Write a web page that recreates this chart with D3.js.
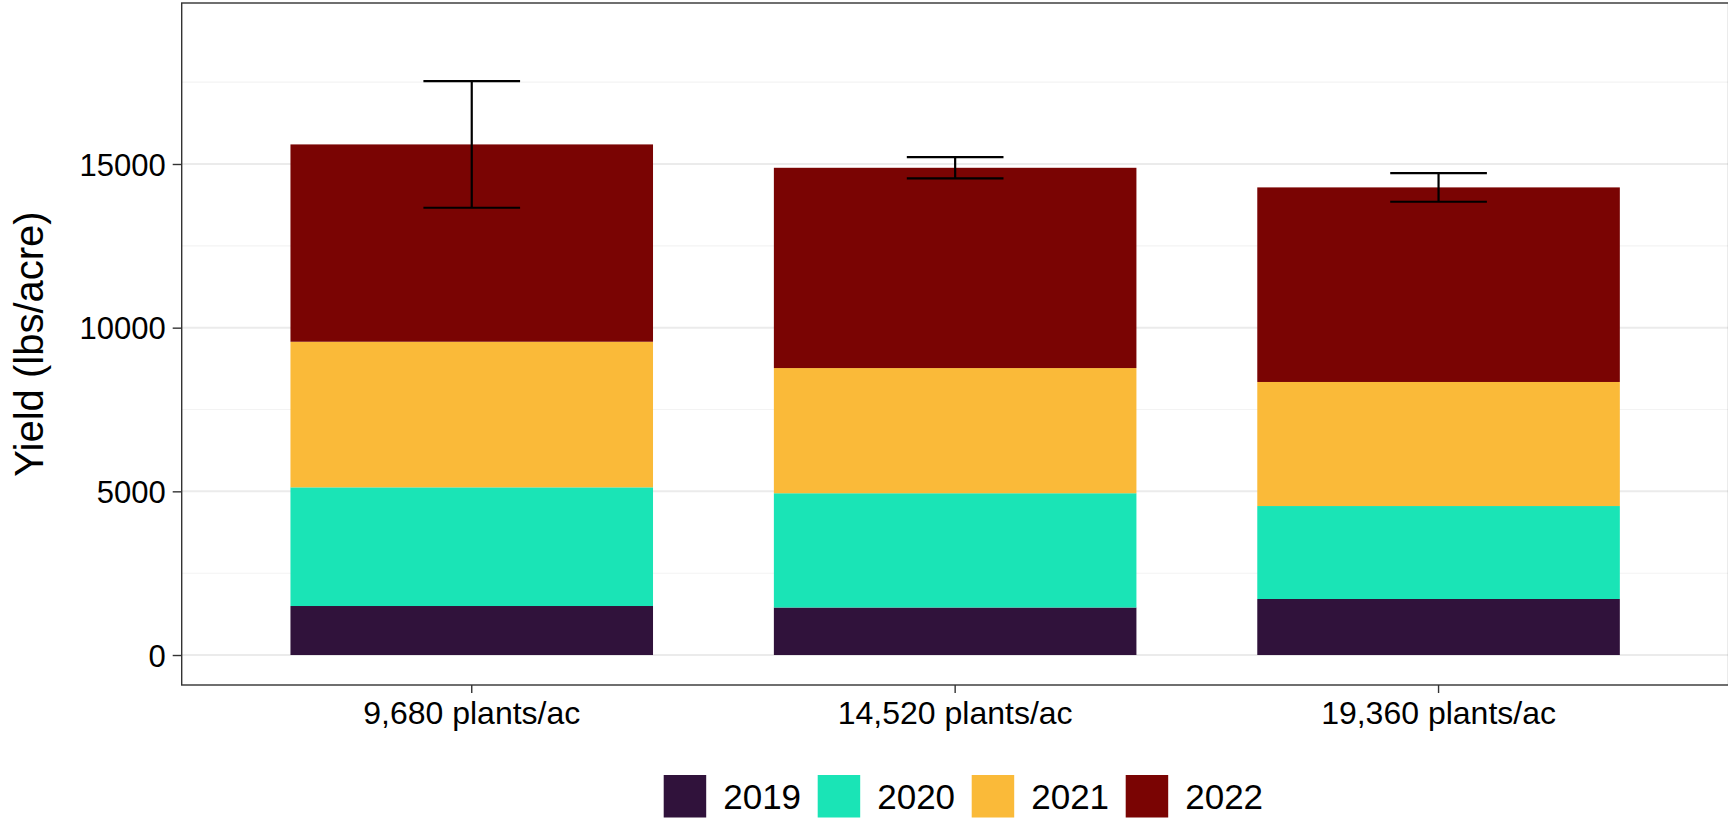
<!DOCTYPE html>
<html>
<head>
<meta charset="utf-8">
<script src="https://cdn.jsdelivr.net/npm/d3@7"></script>
<style>
  html, body { margin: 0; padding: 0; background: #ffffff; }
  svg { display: block; }
  text { font-family: "Liberation Sans", Arial, sans-serif; }
</style>
</head>
<body>
<svg id="chart" width="1728" height="822"></svg>
<script>
// Plant densities on the x axis
const densities = ["9,680 plants/ac", "14,520 plants/ac", "19,360 plants/ac"];

// Growing seasons stacked in each bar
const years = ["2019", "2020", "2021", "2022"];

// Yield contribution (lbs/acre) of each season, per density
const yield2019 = [1497, 1451, 1711];
const yield2020 = [3625, 3491, 2840];
const yield2021 = [4448, 3824, 3790];
const yield2022 = [6028, 6118, 5944];

// Standard error of the total yield, per density
const totalSE = [1935, 325, 438];

// Y axis breaks
const majorTicks = [0, 5000, 10000, 15000];
const minorTicks = [2500, 7500, 12500, 17500];

const seasonColours = ["#30123B", "#1AE4B6", "#FABA39", "#7A0403"];

const svg = d3.select("#chart");

const panel = { left: 181.7, right: 1728.6, top: 3, bottom: 685 };

const x = d3.scaleBand()
  .domain(densities)
  .range([panel.left, panel.right])
  .paddingInner(0.25)
  .paddingOuter(0.225);

const y = d3.scaleLinear()
  .domain([-916, 19918])
  .range([panel.bottom, panel.top]);

const colour = d3.scaleOrdinal().domain(years).range(seasonColours);

// Build stacking table
const bySeason = [yield2019, yield2020, yield2021, yield2022];
const rows = densities.map((d, i) => {
  const r = { density: d };
  years.forEach((yr, j) => { r[yr] = bySeason[j][i]; });
  return r;
});
const stacked = d3.stack().keys(years)(rows);

// Grid lines
const grid = svg.append("g");
grid.selectAll("line.minor").data(minorTicks).join("line")
  .attr("class", "minor")
  .attr("x1", panel.left).attr("x2", panel.right)
  .attr("y1", d => y(d)).attr("y2", d => y(d))
  .attr("stroke", "#f3f3f3").attr("stroke-width", 1.1);
grid.selectAll("line.major").data(majorTicks).join("line")
  .attr("class", "major")
  .attr("x1", panel.left).attr("x2", panel.right)
  .attr("y1", d => y(d)).attr("y2", d => y(d))
  .attr("stroke", "#ebebeb").attr("stroke-width", 2);

// Stacked bars
svg.append("g")
  .selectAll("g")
  .data(stacked)
  .join("g")
  .attr("fill", d => colour(d.key))
  .selectAll("rect")
  .data(d => d)
  .join("rect")
  .attr("x", d => x(d.data.density))
  .attr("width", x.bandwidth())
  .attr("y", d => y(d[1]))
  .attr("height", d => y(d[0]) - y(d[1]));

// Error bars around the total yield
const totals = rows.map(r => d3.sum(years, yr => r[yr]));
const capHalf = x.step() * 0.1;
const eb = svg.append("g").attr("stroke", "#000000").attr("stroke-width", 2.2).attr("fill", "none");
densities.forEach((d, i) => {
  const cx = x(d) + x.bandwidth() / 2;
  const lo = totals[i] - totalSE[i];
  const hi = totals[i] + totalSE[i];
  eb.append("line").attr("x1", cx).attr("x2", cx).attr("y1", y(lo)).attr("y2", y(hi));
  eb.append("line").attr("x1", cx - capHalf).attr("x2", cx + capHalf).attr("y1", y(hi)).attr("y2", y(hi));
  eb.append("line").attr("x1", cx - capHalf).attr("x2", cx + capHalf).attr("y1", y(lo)).attr("y2", y(lo));
});

// Panel border
svg.append("rect")
  .attr("x", panel.left).attr("y", panel.top)
  .attr("width", panel.right - panel.left).attr("height", panel.bottom - panel.top)
  .attr("fill", "none").attr("stroke", "#333333").attr("stroke-width", 1.4);

// Y axis
const yAxis = svg.append("g")
  .attr("transform", `translate(${panel.left},0)`)
  .call(d3.axisLeft(y).tickValues(majorTicks).tickSize(9).tickPadding(7).tickFormat(d3.format("d")));
yAxis.select(".domain").remove();
yAxis.selectAll(".tick line").attr("stroke", "#333333").attr("stroke-width", 1.4);
yAxis.selectAll(".tick text")
  .attr("fill", "#000000")
  .attr("font-size", 31)
  .attr("font-family", "Liberation Sans, Arial, sans-serif")
  .attr("dy", "0.36em");

// X axis
const xAxis = svg.append("g")
  .attr("transform", `translate(0,${panel.bottom})`)
  .call(d3.axisBottom(x).tickSize(8).tickPadding(8));
xAxis.select(".domain").remove();
xAxis.selectAll(".tick line").attr("stroke", "#333333").attr("stroke-width", 1.4);
xAxis.selectAll(".tick text")
  .attr("fill", "#000000")
  .attr("font-size", 32)
  .attr("font-family", "Liberation Sans, Arial, sans-serif")
  .attr("dy", "0.71em");

// Y axis title
svg.append("text")
  .attr("transform", `translate(43,${(panel.top + panel.bottom) / 2}) rotate(-90)`)
  .attr("text-anchor", "middle")
  .attr("font-size", 40)
  .attr("fill", "#000000")
  .text("Yield (lbs/acre)");

// Legend
const keySize = 42.5;
const legendStep = 154;
const legendX = 663.7;
const legendY = 775;
const legend = svg.append("g").attr("transform", `translate(${legendX},${legendY})`);
const item = legend.selectAll("g").data(years).join("g")
  .attr("transform", (d, i) => `translate(${i * legendStep},0)`);
item.append("rect")
  .attr("width", keySize).attr("height", keySize)
  .attr("fill", d => colour(d));
item.append("text")
  .attr("x", keySize + 17)
  .attr("y", keySize / 2)
  .attr("dy", "0.36em")
  .attr("font-size", 35)
  .attr("fill", "#000000")
  .text(d => d);
</script>
</body>
</html>
